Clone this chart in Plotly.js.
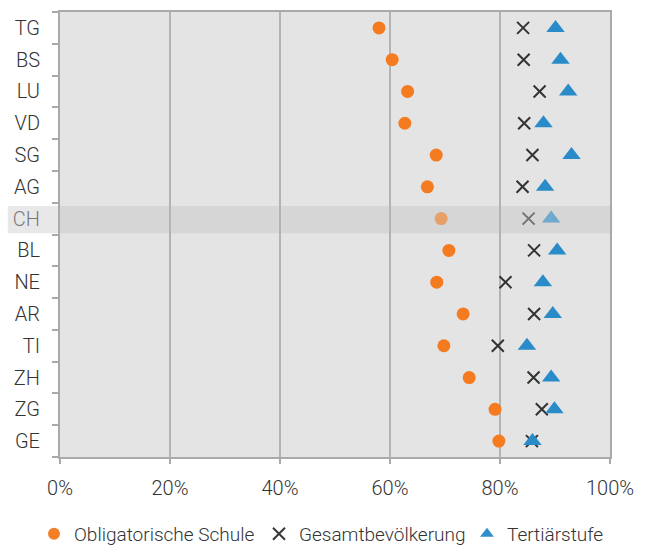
<!DOCTYPE html>
<html>
<head>
<meta charset="utf-8">
<script src="https://cdn.plot.ly/plotly-3.0.1.min.js"></script>
<style>html,body{margin:0;padding:0;background:#fff}#chart{width:648px;height:546px}</style>
</head>
<body>
<div id="chart"></div>
<script>
const cantons = ["TG","BS","LU","VD","SG","AG","CH","BL","NE","AR","TI","ZH","ZG","GE"];
const obligatorisch = [58.0,60.4,63.2,62.7,68.4,66.8,69.3,70.7,68.5,73.3,69.8,74.4,79.1,79.8];
const gesamt = [84.2,84.3,87.2,84.4,85.9,84.1,85.2,86.2,81.0,86.2,79.6,86.1,87.6,85.8];
const tertiaer = [90.1,91.0,92.4,87.9,93.0,88.2,89.3,90.4,87.8,89.6,84.9,89.3,89.9,85.9];
const seriesNames = ["Obligatorische Schule","Gesamtbevölkerung","Tertiärstufe"];
const xTickVals = [0,20,40,60,80,100];
const xTickText = ["0%","20%","40%","60%","80%","100%"];
const highlight = "CH";

const opac = cantons.map(c => c === highlight ? 0.6 : 1);
const tickText = cantons.map(c => c === highlight ? '<span style="fill:#777">' + c + '</span>' : c);

const font = {family: "Roboto, sans-serif", size: 20, color: "#333", weight: 300};

const traces = [
  {type:"scatter", mode:"markers", name:seriesNames[0], x:obligatorisch, y:cantons, legendwidth:180,
   marker:{symbol:"circle", size:13, color:"#f47b20", opacity:opac}},
  {type:"scatter", mode:"markers", name:seriesNames[1], x:gesamt, y:cantons, legendwidth:163,
   marker:{symbol:"x-thin", size:12, color:"#333", opacity:opac, line:{color:"#333", width:2}}},
  {type:"scatter", mode:"markers", name:seriesNames[2], x:tertiaer, y:cantons,
   marker:{symbol:"triangle-up", size:16, color:"#2a8bc9", opacity:opac}}
];

const layout = {
  width:648, height:546,
  margin:{l:60, r:38, t:12, b:89, autoexpand:false},
  paper_bgcolor:"#fff", plot_bgcolor:"#e4e4e4",
  font: font,
  showlegend:true,
  legend:{orientation:"h", x:-0.0473, xanchor:"left", y:-0.13, yanchor:"top",
          font:{family:"Roboto, sans-serif", size:19, color:"#333", weight:300},
          itemwidth:30, itemsizing:"constant", tracegroupgap:0},
  xaxis:{range:[0,100], tickvals:xTickVals, ticktext:xTickText,
         showgrid:true, gridcolor:"#b3b3b3", gridwidth:2,
         showline:true, linecolor:"#aaa", linewidth:2, mirror:true,
         ticks:"outside", ticklen:5, tickcolor:"#aaa", tickwidth:2,
         ticklabelstandoff:7, zeroline:false, fixedrange:true},
  yaxis:{type:"category", categoryorder:"array", categoryarray:cantons,
         tickvals:cantons, ticktext:tickText,
         range:[cantons.length-0.5, -0.5],
         showgrid:false, showline:true, linecolor:"#aaa", linewidth:2, mirror:true,
         ticks:"outside", tickson:"boundaries", ticklen:6, tickcolor:"#aaa", tickwidth:2,
         ticklabelstandoff:14, zeroline:false, fixedrange:true},
  shapes:[{type:"rect", xref:"paper", yref:"paper", layer:"below",
           x0:-0.095, x1:1.004, y0:0.503, y1:0.564,
           fillcolor:"rgba(190,190,190,0.35)", line:{width:0}}]
};

Plotly.newPlot("chart", traces, layout, {displayModeBar:false, staticPlot:true});
</script>
</body>
</html>
